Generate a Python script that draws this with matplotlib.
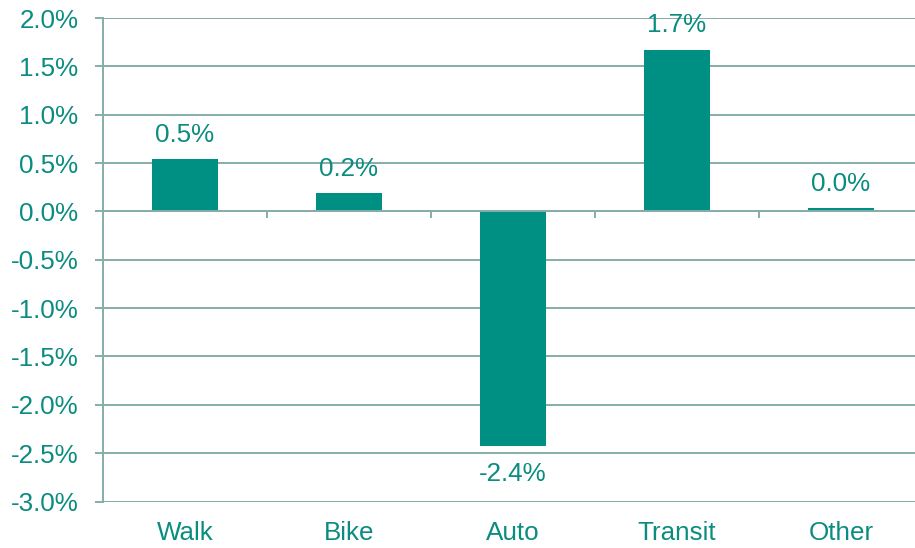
import matplotlib
matplotlib.use('Agg')
import matplotlib.pyplot as plt
import matplotlib.transforms as mtransforms

categories = ['Walk', 'Bike', 'Auto', 'Transit', 'Other']
values = [0.54, 0.19, -2.43, 1.67, 0.03]
value_labels = ['0.5%', '0.2%', '-2.4%', '1.7%', '0.0%']
yticks = [-3.0, -2.5, -2.0, -1.5, -1.0, -0.5, 0.0, 0.5, 1.0, 1.5, 2.0]
ytick_labels = ['-3.0%', '-2.5%', '-2.0%', '-1.5%', '-1.0%', '-0.5%', '0.0%',
                '0.5%', '1.0%', '1.5%', '2.0%']

bar_color = '#008F83'
text_color = '#0A8C80'
grid_color = '#86ADA9'
fs = 18.7

plt.rcParams['font.family'] = ['Liberation Sans', 'DejaVu Sans']
W, H = 915, 548
fig = plt.figure(figsize=(W / 100, H / 100), dpi=100)
ax = fig.add_axes([103 / W, (H - 501.5) / H, 820 / W, 483.5 / H])

x = list(range(len(categories)))
ax.bar(x, values, width=0.4, color=bar_color, zorder=3)
ax.set_xlim(-0.5, len(categories) - 0.5)
ax.set_ylim(-3, 2)

ax.set_yticks(yticks)
ax.set_yticklabels(ytick_labels)
ax.yaxis.grid(True, color=grid_color, lw=1.4, zorder=0)
ax.set_axisbelow(True)
for s in ['top', 'right']:
    ax.spines[s].set_visible(False)
ax.spines['left'].set_color(grid_color)
ax.spines['left'].set_linewidth(1.4)
ax.spines['bottom'].set_position(('data', 0))
ax.spines['bottom'].set_color(grid_color)
ax.spines['bottom'].set_linewidth(1.4)
ax.spines['bottom'].set_zorder(4)

ax.set_xticks([i + 0.5 for i in x[:-1]])
ax.set_xticklabels([])
ax.tick_params(axis='x', length=5, width=1.4, color=grid_color, direction='out')
ax.tick_params(axis='y', length=5.8, width=1.4, color=grid_color, direction='out',
               pad=12, labelcolor=text_color, labelsize=fs)

trans = mtransforms.blended_transform_factory(ax.transData, ax.transAxes)
off = mtransforms.ScaledTranslation(0, -20 / 100, fig.dpi_scale_trans)
for i, c in zip(x, categories):
    ax.text(i, 0, c, transform=trans + off, ha='center', va='top',
            color=text_color, fontsize=fs)

for i, v, lab in zip(x, values, value_labels):
    if v >= 0:
        ax.annotate(lab, (i, v), xytext=(0, 9), textcoords='offset points',
                    ha='center', va='bottom', color=text_color, fontsize=fs)
    else:
        ax.annotate(lab, (i, v), xytext=(0, -11.5), textcoords='offset points',
                    ha='center', va='top', color=text_color, fontsize=fs)

fig.savefig('out.png', dpi=100)
